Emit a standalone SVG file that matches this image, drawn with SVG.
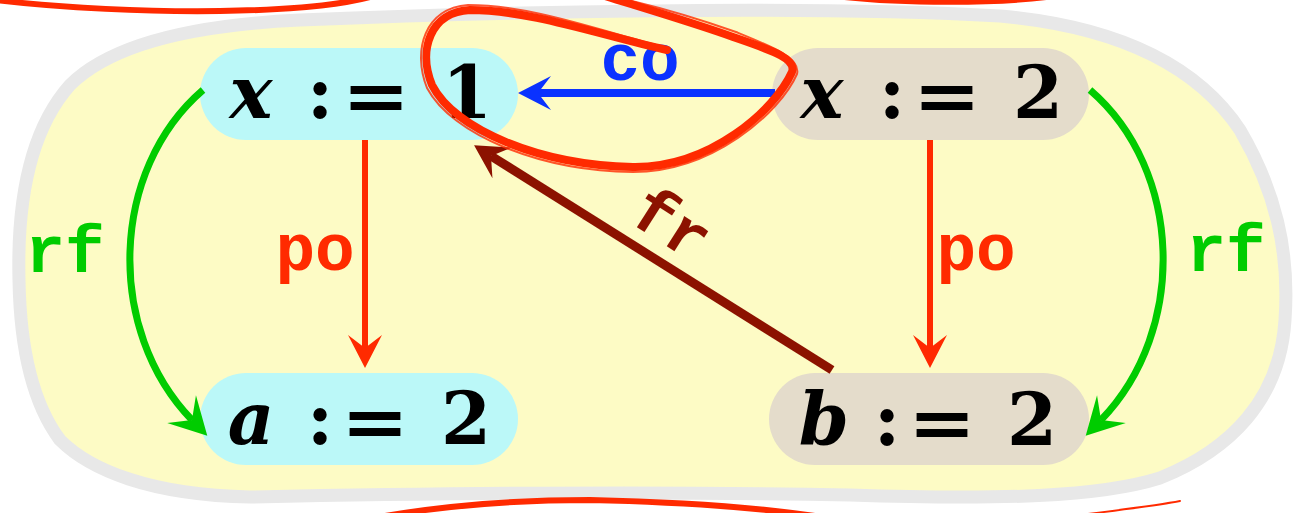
<svg xmlns="http://www.w3.org/2000/svg" width="1299" height="513" viewBox="0 0 1299 513">
<style>
.var{font-family:"DejaVu Serif",serif;font-weight:bold;font-style:italic;font-size:72px;fill:#000;text-anchor:middle}
.sym{font-family:"DejaVu Serif",serif;font-weight:bold;font-size:72px;fill:#000;text-anchor:middle}
.lbl{font-family:"Liberation Mono","DejaVu Sans Mono",monospace;font-weight:bold;font-size:66px;text-anchor:middle}
.cyan{fill:#bbf8f8}
.beige{fill:#e4dccb}
.edge{fill:none;stroke-linecap:butt}
.scrib{fill:none;stroke:#ff2a00;stroke-linecap:round;stroke-linejoin:round}
</style>
<defs>
<marker id="ahRed" markerUnits="userSpaceOnUse" viewBox="-20 -25 50 50" refX="0" refY="0" markerWidth="50" markerHeight="50" orient="auto" overflow="visible"><path d="M-13,-17 L20,0 L-13,17 L0,0 Z" fill="#ff2a00"/></marker>
<marker id="ahBlue" markerUnits="userSpaceOnUse" viewBox="-20 -25 50 50" refX="0" refY="0" markerWidth="50" markerHeight="50" orient="auto" overflow="visible"><path d="M-13,-17 L20,0 L-13,17 L0,0 Z" fill="#0a32ff"/></marker>
<marker id="ahGreen" markerUnits="userSpaceOnUse" viewBox="-20 -25 50 50" refX="0" refY="0" markerWidth="50" markerHeight="50" orient="auto" overflow="visible"><path d="M-15,-20 L22,0 L-15,20 L0,0 Z" fill="#00cc00"/></marker>
<marker id="ahDark" markerUnits="userSpaceOnUse" viewBox="-20 -25 50 50" refX="0" refY="0" markerWidth="50" markerHeight="50" orient="auto" overflow="visible"><path d="M-13,-18 L20,0 L-13,18 L0,0 Z" fill="#8c1200"/></marker>
</defs>
<rect width="1299" height="513" fill="#ffffff"/>
<g id="region">
<path d="M 19 280 C 17 200, 30 130, 70 85 C 110 45, 190 25, 300 20 C 500 12, 800 5, 1000 16 C 1100 25, 1190 55, 1240 130 C 1275 190, 1290 250, 1285 320 C 1280 400, 1230 450, 1160 478 C 1100 497, 1000 500, 850 495 C 600 490, 350 495, 250 497 C 150 495, 90 470, 60 440 C 30 400, 20 340, 19 280 Z" fill="#fdfbc5" stroke="#e8e8e8" stroke-width="13" stroke-linejoin="round"/>
</g>
<g id="node-x1">
<rect class="cyan" x="200" y="48" width="318" height="92" rx="46"/>
<text class="var" x="251" y="118">x</text>
<text class="sym" x="320" y="118">:</text>
<text class="sym" x="376" y="121" textLength="68" lengthAdjust="spacingAndGlyphs">=</text>
<text class="sym" x="467" y="118">1</text>
</g>
<g id="node-x2">
<rect class="beige" x="772" y="48" width="317" height="92" rx="46"/>
<text class="var" x="822" y="118">x</text>
<text class="sym" x="892" y="118">:</text>
<text class="sym" x="947" y="121" textLength="68" lengthAdjust="spacingAndGlyphs">=</text>
<text class="sym" x="1038" y="118">2</text>
</g>
<g id="node-a2">
<rect class="cyan" x="200" y="373" width="318" height="92" rx="46"/>
<text class="var" x="251" y="444">a</text>
<text class="sym" x="320" y="444">:</text>
<text class="sym" x="375" y="447" textLength="68" lengthAdjust="spacingAndGlyphs">=</text>
<text class="sym" x="466" y="444">2</text>
</g>
<g id="node-b2">
<rect class="beige" x="769" y="373" width="320" height="92" rx="46"/>
<text class="var" x="824" y="445">b</text>
<text class="sym" x="887" y="445">:</text>
<text class="sym" x="942" y="448" textLength="68" lengthAdjust="spacingAndGlyphs">=</text>
<text class="sym" x="1032" y="445">2</text>
</g>
<g id="connectors">
<path class="edge" d="M 775 93 L 538 93" stroke="#0a32ff" stroke-width="8" marker-end="url(#ahBlue)"/>
<path class="edge" d="M 365 140 L 365 348" stroke="#ff2a00" stroke-width="6" marker-end="url(#ahRed)"/>
<path class="edge" d="M 930 140 L 930 348" stroke="#ff2a00" stroke-width="6" marker-end="url(#ahRed)"/>
<path class="edge" d="M 203 90 C 110 170, 105 330, 192 420" stroke="#00cc00" stroke-width="7" marker-end="url(#ahGreen)"/>
<path class="edge" d="M 1090 90 C 1183 170, 1188 330, 1101 420" stroke="#00cc00" stroke-width="7" marker-end="url(#ahGreen)"/>
<path class="edge" d="M 832 370 L 491 156" stroke="#8c1200" stroke-width="9" marker-end="url(#ahDark)"/>
<text class="lbl" x="640" y="80" fill="#0a32ff" font-size="72">co</text>
<text class="lbl" x="315" y="270" fill="#ff2a00">po</text>
<text class="lbl" x="976" y="270" fill="#ff2a00">po</text>
<text class="lbl" x="65" y="272" fill="#00cc00">rf</text>
<text class="lbl" x="1226" y="271" fill="#00cc00">rf</text>
<text class="lbl" transform="translate(660 242) rotate(32.6)" x="0" y="0" fill="#8c1200">fr</text>
</g>
<g id="scribbles">
<path class="scrib" stroke-width="8" d="M 667 50 C 600 35, 530 10, 470 10 C 430 12, 418 50, 432 85 C 455 130, 540 165, 633 167 C 710 168, 775 110, 792 72 C 797 58, 770 50, 733 37 C 700 25, 650 10, 605 -4"/>
<path class="scrib" stroke-width="2" opacity="0.8" d="M 660 46 C 598 30, 530 5, 468 5 C 425 8, 412 50, 427 88 C 452 135, 540 171, 633 172 C 712 172, 780 113, 797 74 C 801 58, 773 47, 736 32 C 702 20, 652 5, 610 -4"/>
<path class="scrib" stroke-width="6" d="M -5 0 C 60 8, 150 12, 220 11 C 290 10, 340 5, 370 -3"/>
<path class="scrib" stroke-width="5" d="M 840 -3 C 900 4, 1000 4, 1050 -3"/>
<path class="scrib" stroke-width="6" d="M 385 516 C 450 505, 520 500, 590 500 C 680 502, 760 508, 815 516"/>
<path class="scrib" stroke-width="2" d="M 1088 514 C 1120 510, 1160 505, 1180 501"/>
</g>
</svg>
